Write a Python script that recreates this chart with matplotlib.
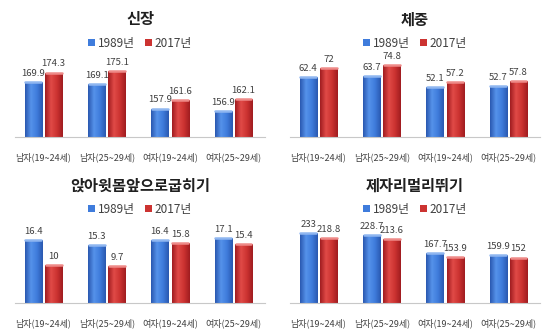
import numpy as np
from matplotlib import pyplot as plt
from matplotlib.colors import LinearSegmentedColormap

plt.rcParams['font.family'] = ['Noto Sans CJK KR', 'DejaVu Sans']

# data
categories = ['남자(19~24세)', '남자(25~29세)', '여자(19~24세)', '여자(25~29세)']
years = ['1989년', '2017년']
titles = ['신장', '체중', '앉아윗몸앞으로굽히기', '제자리멀리뛰기']
height_1989 = [169.9, 169.1, 157.9, 156.9]
height_2017 = [174.3, 175.1, 161.6, 162.1]
weight_1989 = [62.4, 63.7, 52.1, 52.7]
weight_2017 = [72, 74.8, 57.2, 57.8]
flex_1989 = [16.4, 15.3, 16.4, 17.1]
flex_2017 = [10, 9.7, 15.8, 15.4]
jump_1989 = [233, 228.7, 167.7, 159.9]
jump_2017 = [218.8, 213.6, 153.9, 152]
ylims = [(145, 180), (0, 80), (0, 20.2), (0, 258)]

blue_cmap = LinearSegmentedColormap.from_list(
    'b', ['#2a58b0', '#5592ea', '#3f7cdc', '#2a58b0'])
red_cmap = LinearSegmentedColormap.from_list(
    'r', ['#a01c20', '#e04a47', '#cc3331', '#a01c20'])
grad = np.linspace(0, 1, 64).reshape(1, -1)

fig = plt.figure(figsize=(5.5, 3.33), dpi=100)
positions = [
    [15 / 550, 1 - 137 / 333, 250 / 550, 77 / 333],
    [290 / 550, 1 - 137 / 333, 250 / 550, 77 / 333],
    [15 / 550, 1 - 303 / 333, 250 / 550, 77 / 333],
    [290 / 550, 1 - 303 / 333, 250 / 550, 77 / 333],
]
series = [(height_1989, height_2017), (weight_1989, weight_2017),
          (flex_1989, flex_2017), (jump_1989, jump_2017)]

x = np.arange(len(categories))
w = 0.27
for pos, title, (s1, s2), ylim in zip(positions, titles, series, ylims):
    ax = fig.add_axes(pos)
    b1 = ax.bar(x - 0.16, s1, w, color='#3f7cdc', label=years[0])
    b2 = ax.bar(x + 0.16, s2, w, color='#cc3331', label=years[1])
    # cylinder-like shading
    for bars, cmap, cap in [(b1, blue_cmap, '#8fb6f0'), (b2, red_cmap, '#ee8a88')]:
        for p in bars:
            x0, wd, h = p.get_x(), p.get_width(), p.get_height()
            im = ax.imshow(grad, cmap=cmap, aspect='auto',
                           extent=[x0, x0 + wd, ylim[0], h], zorder=2)
            im.set_clip_path(p)
            ax.plot([x0 + 0.01, x0 + wd - 0.01], [h, h], color=cap, lw=1.8,
                    zorder=3, solid_capstyle='round')
    ax.bar_label(b1, padding=3, fontsize=6.9, color='#404040')
    ax.bar_label(b2, padding=3, fontsize=6.9, color='#404040')
    ax.set_ylim(*ylim)
    ax.set_xlim(-0.45, 3.5)
    ax.set_xticks(x)
    ax.set_xticklabels(categories, fontsize=6.5, color='#404040')
    ax.tick_params(axis='x', length=0, pad=11)
    ax.set_yticks([])
    for s in ['top', 'right', 'left']:
        ax.spines[s].set_visible(False)
    ax.spines['bottom'].set_color('#c8c8c8')
    ax.text(0.5, 1.0 + 117 / 77 - 1 + 0.01, title, transform=ax.transAxes,
            ha='center', va='center', fontsize=11, fontweight='bold',
            color='#202020')
    ax.legend(loc='center', bbox_to_anchor=(0.5, 1.0 + 94 / 77 - 1),
              ncol=2, frameon=False, fontsize=8.5, handlelength=0.6,
              handleheight=0.6, handletextpad=0.2, columnspacing=0.9,
              labelcolor='#404040')

plt.savefig('out.png', dpi=100)
